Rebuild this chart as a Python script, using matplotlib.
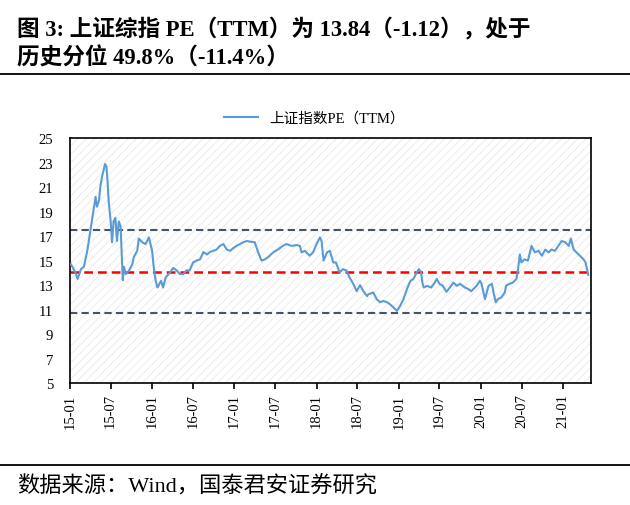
import matplotlib
matplotlib.use("Agg")
import matplotlib.pyplot as plt
import matplotlib.dates as mdates
from matplotlib.patches import Rectangle
import pandas as pd

dates = [
    "2015-01-05", "2015-01-12", "2015-01-26", "2015-02-04", "2015-02-19", "2015-03-04",
    "2015-03-19", "2015-04-03", "2015-04-16", "2015-04-25", "2015-05-01", "2015-05-10",
    "2015-05-16", "2015-05-23", "2015-06-06", "2015-06-12", "2015-06-17", "2015-06-22",
    "2015-07-01", "2015-07-05", "2015-07-07", "2015-07-14", "2015-07-22", "2015-07-29",
    "2015-08-06", "2015-08-14", "2015-08-24", "2015-08-29", "2015-09-06", "2015-09-21",
    "2015-10-05", "2015-10-12", "2015-10-27", "2015-11-03", "2015-11-18", "2015-12-03",
    "2015-12-18", "2016-01-01", "2016-01-10", "2016-01-17", "2016-01-25", "2016-02-10",
    "2016-02-19", "2016-03-01", "2016-03-19", "2016-04-04", "2016-04-19", "2016-05-04",
    "2016-05-19", "2016-06-01", "2016-06-16", "2016-07-01", "2016-07-16", "2016-08-01",
    "2016-08-16", "2016-09-01", "2016-09-14", "2016-09-28", "2016-10-13", "2016-10-28",
    "2016-11-13", "2016-11-28", "2016-12-13", "2016-12-25", "2017-01-10", "2017-01-25",
    "2017-02-10", "2017-02-25", "2017-03-10", "2017-04-01", "2017-04-16", "2017-05-01",
    "2017-05-16", "2017-06-01", "2017-06-22", "2017-07-13", "2017-08-04", "2017-08-19",
    "2017-09-13", "2017-10-04", "2017-10-19", "2017-10-26", "2017-11-10", "2017-12-01",
    "2017-12-16", "2018-01-01", "2018-01-16", "2018-01-23", "2018-02-01", "2018-02-16",
    "2018-03-01", "2018-03-16", "2018-03-28", "2018-04-13", "2018-04-28", "2018-05-13",
    "2018-05-28", "2018-06-13", "2018-06-28", "2018-07-13", "2018-07-28", "2018-08-13",
    "2018-08-19", "2018-09-10", "2018-09-25", "2018-10-10", "2018-10-25", "2018-11-10",
    "2018-11-22", "2018-12-07", "2018-12-24", "2019-01-07", "2019-01-22", "2019-02-07",
    "2019-02-22", "2019-03-07", "2019-03-22", "2019-04-01", "2019-04-10", "2019-04-16",
    "2019-04-22", "2019-05-07", "2019-05-25", "2019-06-10", "2019-06-19", "2019-07-01",
    "2019-07-16", "2019-08-01", "2019-08-16", "2019-09-01", "2019-09-16", "2019-10-01",
    "2019-10-22", "2019-11-04", "2019-11-19", "2019-12-13", "2019-12-28", "2020-01-04",
    "2020-01-19", "2020-02-04", "2020-02-19", "2020-02-26", "2020-03-07", "2020-03-16",
    "2020-04-01", "2020-04-16", "2020-04-22", "2020-05-07", "2020-05-22", "2020-06-07",
    "2020-06-14", "2020-06-22", "2020-06-29", "2020-07-13", "2020-07-28", "2020-08-13",
    "2020-08-28", "2020-09-13", "2020-09-28", "2020-10-13", "2020-10-28", "2020-11-10",
    "2020-11-25", "2020-12-10", "2020-12-25", "2021-01-10", "2021-01-25", "2021-02-04",
    "2021-02-16", "2021-03-01", "2021-03-16", "2021-04-01", "2021-04-10", "2021-04-22",
]
pe = [
    14.7, 14.5, 14.0, 13.5, 14.3, 14.5,
    15.8, 17.6, 19.2, 20.2, 19.4, 19.9,
    21.0, 21.8, 22.9, 22.7, 21.5, 19.9,
    18.2, 17.2, 16.5, 18.2, 18.5, 16.6,
    18.2, 17.8, 13.4, 14.5, 13.9, 14.2,
    14.7, 15.3, 15.8, 16.8, 16.5, 16.35,
    16.9, 15.8, 14.2, 13.35, 12.8, 13.35,
    12.8, 13.6, 14.0, 14.4, 14.2, 13.9,
    13.9, 14.2, 14.2, 14.85, 15.0, 15.1,
    15.7, 15.5, 15.7, 15.8, 15.9, 16.2,
    16.35, 15.9, 15.8, 16.0, 16.2, 16.35,
    16.5, 16.6, 16.55, 16.5, 15.7, 15.0,
    15.1, 15.3, 15.67, 15.9, 16.2, 16.35,
    16.2, 16.27, 16.2, 15.67, 15.8, 15.4,
    15.67, 16.35, 16.9, 16.6, 15.0, 15.67,
    15.8, 14.85, 14.85, 14.04, 14.3, 14.2,
    13.6, 13.1, 12.5, 13.0, 12.5, 12.1,
    12.25, 12.4, 11.85, 11.6, 11.7, 11.6,
    11.45, 11.2, 10.9, 11.3, 11.85, 12.7,
    13.35, 13.5, 14.04, 14.3, 14.04, 13.2,
    12.8, 12.94, 12.8, 13.2, 13.5, 13.1,
    12.94, 12.45, 12.8, 13.2, 12.94, 13.1,
    12.8, 12.7, 12.5, 12.94, 13.35, 13.1,
    11.85, 12.94, 13.1, 12.4, 11.6, 11.85,
    12.0, 12.4, 12.94, 13.1, 13.2, 13.5,
    14.3, 15.5, 14.85, 15.1, 15.0, 16.2,
    15.67, 15.8, 15.4, 15.9, 15.67, 15.9,
    15.8, 16.2, 16.6, 16.5, 16.2, 16.8,
    15.9, 15.67, 15.4, 15.1, 14.85, 13.84,
]
upper_band = 17.5
mean_line = 14.1
lower_band = 10.7
yticks = list(range(5, 26, 2))

serif = ["Liberation Serif", "Noto Sans CJK SC"]
plt.rcParams["font.family"] = serif
plt.rcParams["hatch.linewidth"] = 0.6

x = pd.to_datetime(dates)

fig = plt.figure(figsize=(6.3, 5.06), dpi=100)

# title block
fig.text(0.027, 0.941, "图 3: 上证综指 PE（TTM）为 13.84（-1.12），处于", fontsize=16.3,
         fontweight="bold", va="center", ha="left")
fig.text(0.027, 0.884, "历史分位 49.8%（-11.4%）", fontsize=16.3,
         fontweight="bold", va="center", ha="left")
fig.add_artist(plt.Line2D([0, 1], [0.851, 0.851], color="black", lw=1.3,
                          transform=fig.transFigure))
fig.add_artist(plt.Line2D([0, 1], [0.079, 0.079], color="black", lw=1.3,
                          transform=fig.transFigure))
fig.text(0.027, 0.037, "数据来源：Wind，国泰君安证券研究", fontsize=16,
         va="center", ha="left")

ax = fig.add_axes([0.111, 0.241, 0.827, 0.484])
ax.add_patch(Rectangle((0, 0), 1, 1, transform=ax.transAxes, facecolor="white",
                       edgecolor="#e9e9e9", hatch="////", lw=0, zorder=0))

ax.plot(x, pe, color="#5B9BD5", lw=1.5, label="上证指数PE（TTM）", zorder=3)
ax.axhline(upper_band, color="#44546A", lw=1.5, ls=(0, (3.5, 2)), zorder=2)
ax.axhline(lower_band, color="#44546A", lw=1.5, ls=(0, (3.5, 2)), zorder=2)
ax.axhline(mean_line, color="#FF0000", lw=1.8, ls=(0, (3.5, 2)), zorder=2)

ax.set_ylim(5, 25)
ax.set_yticks(yticks)
ax.set_xlim(pd.Timestamp("2015-01-01"), pd.Timestamp("2021-05-04"))
ax.xaxis.set_major_locator(mdates.MonthLocator(bymonth=[1, 7]))
ax.xaxis.set_major_formatter(mdates.DateFormatter("%y-%m"))
ax.tick_params(axis="x", rotation=90, labelsize=10.5, length=4, width=1.2,
               direction="out")
ax.tick_params(axis="y", length=0, labelsize=10.5, pad=12)
for s in ax.spines.values():
    s.set_linewidth(1.2)
    s.set_color("black")

ax.legend(loc="lower center", bbox_to_anchor=(0.47, 1.0), frameon=False,
          fontsize=10.5, handlelength=2.3)

fig.savefig("out.png", dpi=100)
